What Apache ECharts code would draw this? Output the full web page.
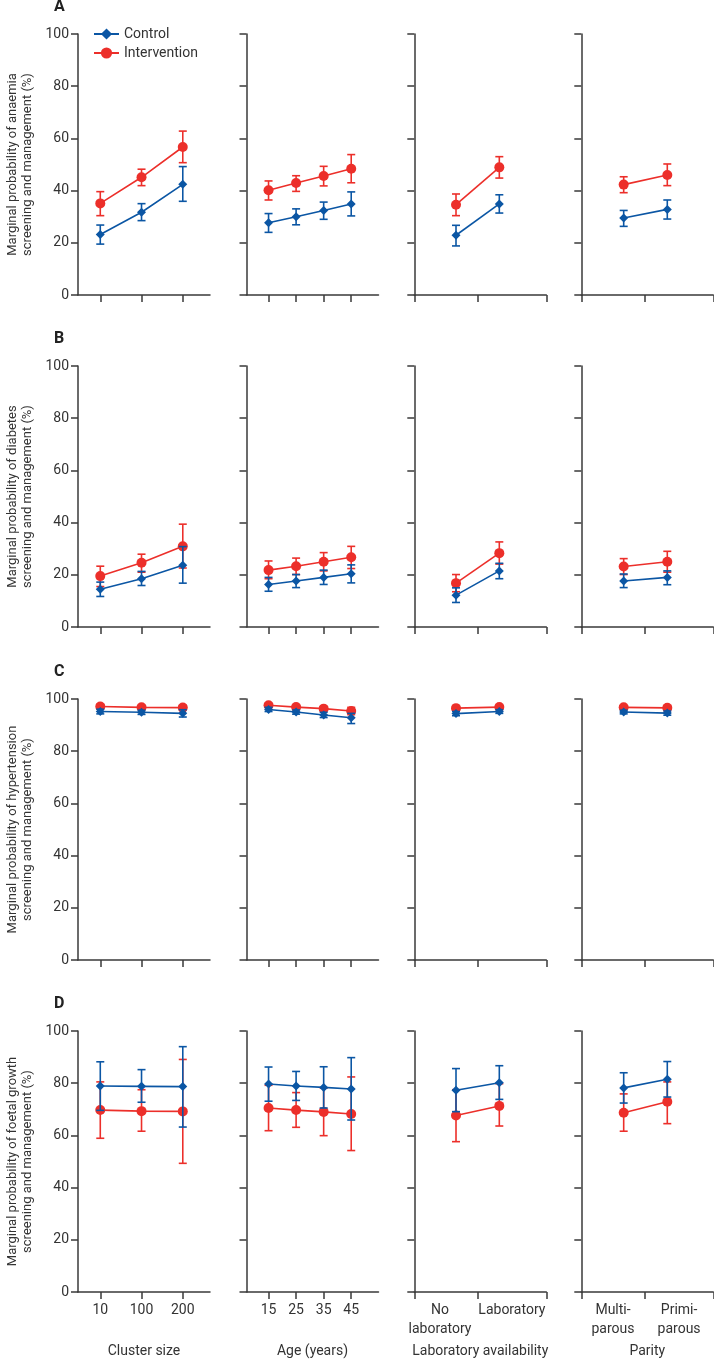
<!DOCTYPE html>
<html>
<head>
<meta charset="utf-8">
<title>Marginal probabilities</title>
<script src="https://cdn.jsdelivr.net/npm/echarts@6.0.0/dist/echarts.min.js"></script>
<style>
  html, body { margin: 0; padding: 0; background: #fff; }
  #chart { width: 714px; height: 1360px; }
</style>
</head>
<body>
<div id="chart"></div>
<script>
// categories of the four columns
const clusterCats = ['10', '100', '200'];
const ageCats = ['15', '25', '35', '45'];
const labCats = ['No\nlaboratory', 'Laboratory'];
const parityCats = ['Multi-\nparous', 'Primi-\nparous'];
const colTitles = ['Cluster size', 'Age (years)', 'Laboratory availability', 'Parity'];

const rowLetters = ['A', 'B', 'C', 'D'];
const rowNames = [
  'Marginal probability of anaemia\nscreening and management (%)',
  'Marginal probability of diabetes\nscreening and management (%)',
  'Marginal probability of hypertension\nscreening and management (%)',
  'Marginal probability of foetal growth\nscreening and management (%)'
];

// [estimate, lower, upper] per category; one sub-array per column (cluster, age, lab, parity)
const anaemiaControl = [
  [[23.2, 19.5, 26.8], [31.7, 28.5, 35.0], [42.4, 35.9, 49.2]],
  [[27.7, 24.0, 31.2], [30.0, 26.9, 33.0], [32.4, 29.0, 35.6], [34.9, 30.3, 39.5]],
  [[22.9, 18.8, 26.7], [34.9, 31.4, 38.4]],
  [[29.5, 26.3, 32.4], [32.8, 29.1, 36.4]]
];
const anaemiaIntervention = [
  [[35.1, 30.4, 39.6], [45.1, 41.9, 48.2], [56.7, 50.7, 62.8]],
  [[40.1, 36.4, 43.7], [42.9, 39.7, 45.7], [45.6, 41.8, 49.3], [48.4, 43.0, 53.8]],
  [[34.6, 30.4, 38.7], [48.9, 44.8, 53.0]],
  [[42.3, 39.2, 45.3], [46.0, 41.9, 50.2]]
];
const diabetesControl = [
  [[14.5, 11.7, 17.2], [18.5, 15.9, 21.3], [23.7, 16.8, 30.8]],
  [[16.3, 13.7, 19.0], [17.6, 15.1, 20.1], [19.0, 16.3, 21.8], [20.4, 16.9, 23.8]],
  [[12.2, 9.4, 15.0], [21.5, 18.5, 24.4]],
  [[17.6, 15.1, 20.3], [19.0, 16.2, 21.5]]
];
const diabetesIntervention = [
  [[19.5, 15.5, 23.3], [24.6, 21.0, 27.9], [30.9, 22.6, 39.4]],
  [[21.8, 18.5, 25.3], [23.3, 20.1, 26.4], [25.0, 21.5, 28.5], [26.7, 22.4, 30.9]],
  [[16.8, 13.5, 20.1], [28.3, 24.1, 32.6]],
  [[23.2, 20.1, 26.2], [25.0, 21.0, 29.0]]
];
const hypertensionControl = [
  [[95.2, 94.3, 96.1], [94.9, 94.1, 95.7], [94.5, 93.1, 95.9]],
  [[96.0, 95.2, 96.8], [95.0, 94.2, 95.8], [93.9, 92.9, 94.9], [92.8, 90.6, 94.5]],
  [[94.4, 93.6, 95.2], [95.2, 94.5, 95.9]],
  [[95.0, 94.3, 95.7], [94.6, 93.8, 95.4]]
];
const hypertensionIntervention = [
  [[97.1, 96.3, 98.0], [96.8, 96.1, 97.5], [96.7, 95.8, 97.6]],
  [[97.6, 96.9, 98.3], [96.9, 96.2, 97.6], [96.3, 95.5, 97.1], [95.4, 94.0, 96.8]],
  [[96.5, 95.9, 97.1], [96.9, 96.3, 97.5]],
  [[96.8, 96.2, 97.4], [96.6, 96.0, 97.2]]
];
const foetalControl = [
  [[78.9, 69.6, 88.2], [78.8, 72.7, 85.2], [78.7, 63.2, 94.0]],
  [[79.7, 73.1, 86.2], [78.9, 73.4, 84.5], [78.4, 70.5, 86.3], [77.8, 65.9, 89.8]],
  [[77.3, 69.1, 85.6], [80.2, 73.8, 86.7]],
  [[78.2, 72.4, 84.0], [81.5, 74.7, 88.3]]
];
const foetalIntervention = [
  [[69.7, 58.9, 80.5], [69.3, 61.6, 77.5], [69.2, 49.3, 89.1]],
  [[70.5, 61.8, 79.2], [69.7, 63.1, 76.4], [69.0, 59.9, 78.1], [68.2, 54.2, 82.4]],
  [[67.6, 57.6, 77.5], [71.3, 63.6, 79.8]],
  [[68.7, 61.6, 75.9], [72.9, 64.5, 80.5]]
];

const controlRows = [anaemiaControl, diabetesControl, hypertensionControl, foetalControl];
const interventionRows = [anaemiaIntervention, diabetesIntervention, hypertensionIntervention, foetalIntervention];
const colCats = [clusterCats, ageCats, labCats, parityCats];

// layout
const BLUE = '#0b56a4';
const RED = '#ec2f2a';
const AXIS = '#3a3a3a';
const TEXT = '#333';
const FONT = 'Roboto';
const colLeft = [78, 246.5, 414.3, 581.3];
const rowTop = [34, 366, 699, 1031];
const gridW = 132, gridH = 261;

// x extents (in category index units) so marks sit where the original puts them
const colAxis = [
  { min: -0.54, max: 2.66, ticks: [0, 1, 2], labels: [0, 1, 2] },
  { min: -0.80, max: 3.99, ticks: [0, 1, 2, 3], labels: [0, 1, 2, 3] },
  { min: -0.963, max: 2.085, ticks: [-0.963, 0.508, 2.085], labels: [-0.37, 1.29] },
  { min: -0.972, max: 2.055, ticks: [-0.972, 0.489, 2.055], labels: [-0.245, 1.27] }
];

const grids = [], xAxes = [], yAxes = [], series = [], titles = [];

function errorBar(color) {
  return function (params, api) {
    const x = api.value(0);
    const top = api.coord([x, api.value(2)]);
    const bot = api.coord([x, api.value(1)]);
    const w = 4;
    const style = { stroke: color, lineWidth: 1.6 };
    return {
      type: 'group',
      children: [
        { type: 'line', shape: { x1: top[0], y1: top[1], x2: bot[0], y2: bot[1] }, style: style },
        { type: 'line', shape: { x1: top[0] - w, y1: top[1], x2: top[0] + w, y2: top[1] }, style: style },
        { type: 'line', shape: { x1: bot[0] - w, y1: bot[1], x2: bot[0] + w, y2: bot[1] }, style: style }
      ]
    };
  };
}

for (let r = 0; r < 4; r++) {
  titles.push({
    text: rowLetters[r], left: 54, top: rowTop[r] - 35, padding: 0,
    textStyle: { fontFamily: FONT, fontSize: 16, fontWeight: 'bold', color: '#222' }
  });
  for (let c = 0; c < 4; c++) {
    const idx = grids.length;
    const ax = colAxis[c];
    const cats = colCats[c];
    const bottomRow = r === 3;
    grids.push({ left: colLeft[c], top: rowTop[r], width: gridW, height: gridH });
    xAxes.push({
      type: 'value', gridIndex: idx, min: ax.min, max: ax.max,
      splitLine: { show: false },
      axisLine: { show: true, onZero: false, lineStyle: { color: AXIS, width: 1.5 } },
      axisTick: { show: true, customValues: ax.ticks, length: 7, lineStyle: { color: AXIS, width: 1.5 } },
      axisLabel: {
        show: bottomRow, customValues: ax.labels, margin: 9,
        fontFamily: FONT, fontSize: 14, color: TEXT, lineHeight: 19, verticalAlign: 'top',
        formatter: function (v) {
          const i = ax.labels.findIndex(function (p) { return Math.abs(p - v) < 1e-6; });
          return i >= 0 ? cats[i] : '';
        }
      },
      name: bottomRow ? colTitles[c] : '',
      nameLocation: 'middle', nameGap: 52,
      nameTextStyle: { fontFamily: FONT, fontSize: 14, color: TEXT }
    });
    yAxes.push({
      type: 'value', gridIndex: idx, min: 0, max: 100, interval: 20,
      splitLine: { show: false },
      axisLine: { show: true, onZero: false, lineStyle: { color: AXIS, width: 1.5 } },
      axisTick: { show: true, length: 7, lineStyle: { color: AXIS, width: 1.5 } },
      axisLabel: { show: c === 0, margin: 9, fontFamily: FONT, fontSize: 14, color: TEXT },
      name: c === 0 ? rowNames[r] : '',
      nameLocation: 'middle', nameRotate: 90, nameGap: 43,
      nameTextStyle: { fontFamily: FONT, fontSize: 13, color: TEXT, lineHeight: 15 }
    });

    const ctrl = controlRows[r][c];
    const intv = interventionRows[r][c];
    // line series first so the legend takes its line + symbol look from them
    series.push({
      name: 'Control', type: 'line', xAxisIndex: idx, yAxisIndex: idx,
      symbol: 'diamond', symbolSize: 9, itemStyle: { color: BLUE },
      lineStyle: { color: BLUE, width: 1.6 },
      data: ctrl.map(function (d, i) { return [i, d[0]]; }), z: 5
    });
    series.push({
      name: 'Intervention', type: 'line', xAxisIndex: idx, yAxisIndex: idx,
      symbol: 'circle', symbolSize: 10, itemStyle: { color: RED },
      lineStyle: { color: RED, width: 1.6 },
      data: intv.map(function (d, i) { return [i, d[0]]; }), z: 3
    });
    series.push({
      name: 'Intervention', type: 'custom', xAxisIndex: idx, yAxisIndex: idx,
      renderItem: errorBar(RED), encode: { x: 0, y: [1, 2] }, itemStyle: { color: RED },
      data: intv.map(function (d, i) { return [i, d[1], d[2]]; }), z: 2
    });
    series.push({
      name: 'Control', type: 'custom', xAxisIndex: idx, yAxisIndex: idx,
      renderItem: errorBar(BLUE), encode: { x: 0, y: [1, 2] }, itemStyle: { color: BLUE },
      data: ctrl.map(function (d, i) { return [i, d[1], d[2]]; }), z: 4
    });
  }
}

const chart = echarts.init(document.getElementById('chart'), null, { renderer: 'canvas' });
chart.setOption({
  animation: false,
  backgroundColor: '#fff',
  title: titles,
  legend: {
    data: ['Control', 'Intervention'],
    orient: 'vertical', left: 93, top: 27, padding: 0,
    itemWidth: 25, itemHeight: 14, itemGap: 5,
    textStyle: { fontFamily: FONT, fontSize: 14, color: TEXT }
  },
  grid: grids,
  xAxis: xAxes,
  yAxis: yAxes,
  series: series
});
</script>
</body>
</html>
